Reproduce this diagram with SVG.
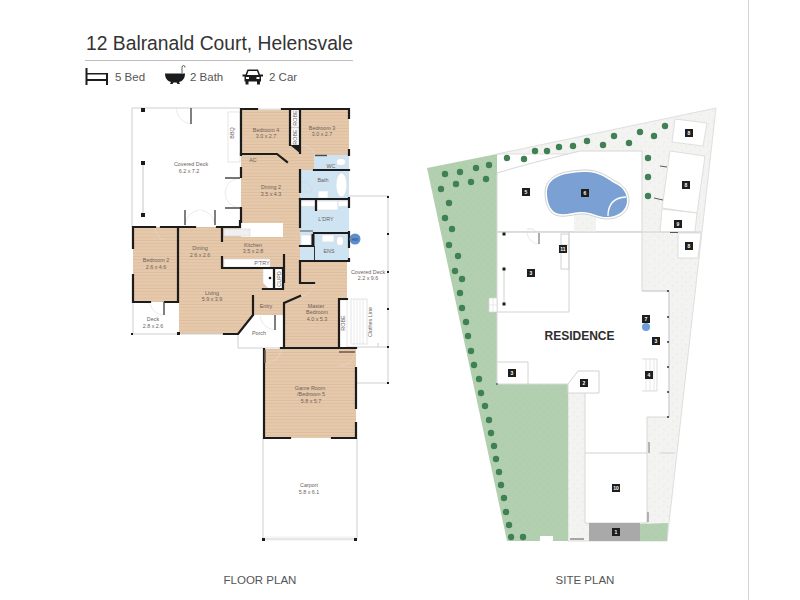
<svg xmlns="http://www.w3.org/2000/svg" width="800" height="600" viewBox="0 0 800 600">
<style>
text{font-family:"Liberation Sans",Arial,sans-serif}
.t{font-size:5.4px;fill:#6d625a;text-anchor:middle}
.w{fill:none;stroke:#1c1c1c;stroke-width:2.2;stroke-linecap:square}
.d{fill:none;stroke:#4a4a4a;stroke-width:1.4}
.g{fill:none;stroke:#cfcfcf;stroke-width:1}
.a{fill:none;stroke:#dcdcdc;stroke-width:.6}
.s{fill:none;stroke:#d2d2d2;stroke-width:1}
.c{fill:#1c1c1c}
.b{fill:#1e1e1e}
.n{font-size:5px;font-weight:bold;fill:#fff;text-anchor:middle}
.h{font-size:11.500px;fill:#555}
.p{font-size:11.500px;fill:#555;text-anchor:middle}
.tree{fill:#3f8155}
</style>
<defs>
<pattern id="wood" width="4" height="3.200" patternUnits="userSpaceOnUse"><rect width="4" height="3.200" fill="#e6c8ab"/><rect width="4" height=".8" fill="#dcbc9e"/></pattern>
<pattern id="gravel" width="9" height="9" patternUnits="userSpaceOnUse"><rect width="9" height="9" fill="#f3f3f1"/><circle cx="2" cy="3" r=".4" fill="#c4c4c0"/><circle cx="7" cy="7" r=".4" fill="#cfcfcb"/><circle cx="6" cy="1" r=".3" fill="#c4c4c0"/></pattern>
<pattern id="grass" width="7" height="7" patternUnits="userSpaceOnUse"><rect width="7" height="7" fill="#b2cfb0"/><circle cx="2" cy="2" r=".5" fill="#a6c6a5"/><circle cx="5" cy="5" r=".5" fill="#a6c6a5"/></pattern>
</defs>
<rect width="800" height="600" fill="#fff"/>
<line x1="748.500" y1="0" x2="748.500" y2="600" stroke="#d5d5d5" stroke-width="1"/>

<g id="header">
<text x="86" y="50" font-size="19.300" fill="#333">12 Balranald Court, Helensvale</text>
<line x1="85" y1="60.500" x2="353" y2="60.500" stroke="#bdbdbd" stroke-width="1"/>
<path id="bed" d="M85.500,68H87.500V73H108V85H106V81H87.500V85H85.500ZM87.500,74.500H106V79H87.500Z" fill="#1c1c1c" fill-rule="evenodd"/>
<text class="h" x="115" y="81">5 Bed</text>
<path id="bath" d="M165,73.500H185C185,78 183,81 179,82L180,84H177.500L176.500,82.500H173.500L172.500,84H170L171,82C167,81 165,78 165,73.500Z" fill="#1c1c1c"/>
<path id="tap" d="M182,73V67.500Q182,65.500 183.700,65.500Q185,65.500 185,67.500" fill="none" stroke="#333" stroke-width=".8"/>
<text class="h" x="190" y="81">2 Bath</text>
<path id="car" d="M242.500,74.500H245.500L247.500,69.500H258L260,74.500H263V76.500H261V81.500H260V84.500H257V81.500H248.500V84.500H245.500V81.500H244.500V76.500H242.500ZM248.500,71L247,75H258.500L257,71ZM246,77V79H249V77ZM256.500,77V79H259.500V77Z" fill="#1c1c1c" fill-rule="evenodd"/>
<text class="h" x="269" y="81">2 Car</text>
</g>

<g id="floor-plan">
<path id="floor" fill="url(#wood)" d="M241,109H349V155H314V171H300V262H347V348H284V315H253L238,334H179V227H240V222L241,222Z"/>
<rect id="cutout" x="241" y="223" width="42" height="14" fill="#fff"/>
<rect id="bed2floor" x="133" y="227" width="45" height="75" fill="url(#wood)"/>
<rect id="gamefloor" x="264" y="349" width="92" height="89" fill="url(#wood)"/>
<g id="wet-rooms" fill="#cfe4f3">
<rect x="314" y="155" width="35" height="16"/>
<rect x="300" y="170" width="49" height="63"/>
<rect x="300" y="233" width="49" height="28"/>
</g>
<g id="fixtures" fill="#fff" stroke="#d5d5d5" stroke-width=".6">
<ellipse cx="341.500" cy="185" rx="5.500" ry="12"/>
<ellipse cx="341" cy="162" rx="4.500" ry="3.500"/>
<rect x="318" y="191" width="10" height="7"/>
<path d="M301,182H306L312,188V192H301Z" fill="#cfe4f3"/>
<rect x="301" y="201" width="14" height="5.500"/>
<rect x="317" y="201" width="21" height="9"/>
<rect x="338" y="201" width="10" height="5.500"/>
<rect x="301" y="235" width="10" height="10"/>
<rect x="322" y="235" width="12" height="7"/>
<ellipse cx="340" cy="241" rx="3.500" ry="4.500"/>
<rect id="robe1" x="290" y="110" width="10" height="17"/>
<rect id="robe2" x="290" y="128" width="10" height="17"/>
<rect x="339" y="300" width="8" height="48"/>
<rect x="228" y="112" width="12" height="50"/>
<rect x="224" y="259" width="46" height="8"/>
<rect x="224" y="229" width="26" height="7" fill="#f0f0f0"/>
<path d="M263,269H274V289H269L263,283Z"/>
<rect x="275" y="269" width="8" height="20"/>
</g>
<g id="thin-lines">
<path class="g" d="M240,108H132V227"/>
<path class="g" d="M133,302V334H179"/>
<path class="g" d="M238,334V348H284"/>
<path class="g" d="M263,438V539H357V438"/>
<path class="g" d="M349,196H388V383H357"/>
<path class="g" d="M347,347H388"/>
<path class="g" d="M378,343V347"/>
<path class="g" d="M181,334H224"/>
<rect x="263" y="537" width="94" height="3" fill="none" stroke="#e4e4e4" stroke-width=".6"/>
<path fill="none" stroke="#dadada" stroke-width="1.500" d="M143,165V213"/>
<path class="a" d="M176,108Q178,122 191,124M185,225Q186,213 199,210M215,225Q214,213 201,210M240,178Q226,180 225,193M240,208Q226,206 225,193M155,227Q156,238 164,240M164,315Q152,314 150,303M265,363Q279,362 281,350M355,352Q354,365 339,366M275,330Q262,328 260,316M314,283Q312,295 300,296M300,145Q313,146 314,155"/>
<rect x="351" y="299" width="16" height="45" fill="#fff" stroke="#d8d8d8" stroke-width=".7"/>
<path class="a" d="M354,299V344M357,299V344M360,299V344M363,299V344"/>
<rect x="243" y="154" width="16" height="4" fill="none" stroke="#c8c8c8" stroke-width=".5"/>
<rect x="257" y="108.500" width="25" height="1.500" fill="#e0e0e0"/>
</g>
<g id="walls">
<path class="w" d="M241,109V155M241,109H257M282,109H349M349,109V118M349,150V155"/>
<path class="w" d="M241,154H277L287,162"/>
<path class="w" d="M290,109V145M300,109V153"/>
<path class="c" d="M290,145H301V154Z"/>
<path class="d" d="M315,155.500H327"/>
<path class="w" d="M314,170H349M300,170V192M300,199H349M316,199V210M349,198V207"/>
<path class="w" d="M300,199V227"/>
<path class="w" d="M314,233H349M349,232V247M349,259V261M300,246H313M300,261H347"/>
<path d="M300,231H313" stroke="#555" stroke-width="1"/>
<path d="M313,234V246" stroke="#1c1c1c" stroke-width="3"/>
<path d="M314.500,246V260" stroke="#333" stroke-width="1"/>
<path class="d" d="M225,178H240M225,208H240"/>
<path class="w" d="M241,177V168M241,208V222"/>
<path class="d" d="M191,108V124M185,210V225M215,210V225"/>
<path class="w" d="M133,227V248M133,275V302M133,302H150M165,302H178M133,227H155M161,227H195M217,227H240V221M178,227V302"/>
<path class="d" d="M164,302V315"/>
<path class="w" d="M222,227V241M222,257V268H284M284,255V282M274,269V288M263,289H283V269"/>
<path class="w" d="M224,334H238L253,315V296"/>
<path class="w" d="M284,348V303L300,296M300,262V283H314"/>
<path class="w" d="M339,299V348M339,299H347"/>
<path class="d" d="M275,315V330"/>
<path class="w" d="M264,349V438M281,348H356M264,438H290M332,438H356M356,368V408M356,423V438"/>
<path d="M265,350V363M339,352H355" fill="none" stroke="#6a5a50" stroke-width="1.500"/>
</g>
<g id="columns" class="c">
<rect x="141" y="108" width="4" height="4"/><rect x="141" y="161" width="4" height="4"/><rect x="141" y="213" width="4" height="4"/>
<rect x="131" y="333" width="2" height="2"/><rect x="177" y="332" width="3" height="3"/>
<rect x="387" y="196" width="2" height="2"/><rect x="387" y="233" width="2" height="2"/><rect x="387" y="271" width="2" height="2"/><rect x="387" y="308" width="2" height="2"/><rect x="387" y="346" width="2" height="2"/><rect x="387" y="382" width="2" height="2"/>
<rect x="262" y="538" width="3" height="3"/><rect x="354" y="538" width="3" height="3"/>
<circle cx="270" cy="278" r="1.300"/>
</g>
<circle id="hws" cx="355" cy="239" r="5.500" fill="#5b8ecb"/>
<text x="355" y="240.500" font-size="4" fill="#2c4d7a" text-anchor="middle">HW</text>
<g id="floor-labels">
<text class="t" x="191" y="166">Covered Deck</text><text class="t" x="189" y="173">6.2 x 7.2</text>
<text class="t" x="234" y="133" transform="rotate(-90 234 133)">BBQ</text>
<text class="t" x="266" y="132">Bedroom 4</text><text class="t" x="266" y="138">3.0 x 2.7</text>
<text class="t" x="322" y="130">Bedroom 3</text><text class="t" x="322" y="136">3.0 x 2.7</text>
<text class="t" x="297" y="118" transform="rotate(-90 297 118)">ROBE</text>
<text class="t" x="297" y="137" transform="rotate(-90 297 137)">ROBE</text>
<text class="t" x="253" y="162">AC</text>
<text class="t" x="331" y="168">WC</text>
<text class="t" x="323" y="182">Bath</text>
<text class="t" x="271" y="189">Dining 2</text><text class="t" x="271" y="196">3.5 x 4.3</text>
<text class="t" x="326" y="221">L'DRY</text>
<text class="t" x="329" y="253">ENS</text>
<text class="t" x="253" y="247">Kitchen</text><text class="t" x="253" y="253">3.5 x 2.8</text>
<text class="t" x="200" y="250">Dining</text><text class="t" x="200" y="257">2.6 x 2.6</text>
<text class="t" x="156" y="262">Bedroom 2</text><text class="t" x="156" y="269">2.6 x 4.6</text>
<text class="t" x="262" y="264.500">P'TRY</text>
<text class="t" x="281" y="279" transform="rotate(-90 281 279)">CUPD</text>
<text class="t" x="212" y="295">Living</text><text class="t" x="212" y="301">5.9 x 3.9</text>
<text class="t" x="153" y="321">Deck</text><text class="t" x="153" y="328">2.8 x 2.6</text>
<text class="t" x="266" y="308">Entry</text>
<text class="t" x="259" y="335">Porch</text>
<text class="t" x="316" y="308">Master</text><text class="t" x="317" y="314">Bedroom</text><text class="t" x="317" y="321">4.0 x 5.3</text>
<text class="t" x="345" y="323" transform="rotate(-90 345 323)">ROBE</text>
<text class="t" x="368" y="274">Covered Deck</text><text class="t" x="368" y="280">2.2 x 9.6</text>
<text class="t" x="372" y="322" transform="rotate(-90 372 322)">Clothes Line</text>
<text class="t" x="310" y="390">Game Room</text><text class="t" x="311" y="396">/Bedroom 5</text><text class="t" x="311" y="403">5.8 x 5.7</text>
<text class="t" x="309" y="487">Carport</text><text class="t" x="309" y="494">5.8 x 6.1</text>
</g>
<text class="p" x="260" y="584">FLOOR PLAN</text>
</g>

<g id="site-plan">
<path id="gravel-lot" fill="url(#gravel)" stroke="#d8d8d8" stroke-width=".8" d="M497,154L716,108L667,541H568V154Z"/>
<path id="lawn" fill="url(#grass)" d="M427,168L497,154V384H568V541H507Z"/>
<rect x="540" y="536" width="13" height="5" fill="#fff"/>
<path id="pool-yard" fill="#fff" stroke="#d8d8d8" d="M497,173Q530,163 580,151H642V232H497Z"/>
<path id="residence" fill="#fff" stroke="#d8d8d8" d="M497,232H642V291H669V417H647V523H585V393H568V384H497Z"/>
<rect x="574" y="213" width="22" height="19" fill="url(#gravel)"/>
<path id="pool-edge" fill="#fff" stroke="#d0d0d0" d="M545,193C545,175 563,171 583,170C600,169 609,178 617,182C626,187 629,194 629,201C629,212 619,219 607,219C597,219 590,213 580,214C570,215 560,219 552,213C547,208 545,200 545,193Z"/>
<path id="pool" fill="#7ba0d3" d="M547,193C547,177 563,173 583,172C600,171 608,180 616,184C624,188 627,194 627,201C627,210 618,217 607,217C597,217 590,211 580,212C570,213 560,217 553,211C549,207 547,200 547,193Z"/>
<path id="spa" d="M608,216Q608,198 626,197" fill="none" stroke="#fff" stroke-width="1.300"/>
<g id="outbuildings" fill="#fff" stroke="#d8d8d8" stroke-width=".8">
<path d="M675,119L707,123L703,146L672,142Z"/>
<path d="M670,151L705,156L697,213L662,208Z"/>
<path d="M662,209L697,213L695,232H660Z"/>
<path d="M678,233H701L698,258H678Z"/>
</g>
<path id="grey-pad" fill="#a9a9a9" d="M589,523H640V541H589Z"/>
<path id="corner-lawn" fill="url(#grass)" d="M640,524L668,523L667,541H640Z"/>
<g id="site-lines">
<path class="s" d="M497,232H701"/>
<path class="s" d="M569,232V312H497"/>
<rect x="561" y="234" width="8" height="35" class="s"/>
<path class="s" d="M561,245H569"/>
<rect x="489" y="298" width="8" height="14" fill="#fff" stroke="#d5d5d5" stroke-width=".7"/>
<path class="a" d="M489,305H497M493,298V312"/>
<path class="s" stroke-width="1.500" d="M504,269V304"/>
<path class="s" d="M497,362H528V384"/>
<path class="s" fill="#fff" d="M568,384L578,371H599V393H585"/>
<path class="s" d="M585,453H647"/>
<path class="s" d="M660,453H675"/>
<path class="s" d="M642,291H669V417"/>
<path d="M642,359H657V391H642" fill="none" stroke="#cdcdcd" stroke-width=".7"/>
<path d="M646,359V391M650,359V391M654,359V391" fill="none" stroke="#cdcdcd" stroke-width=".5"/>
<path class="a" d="M527,232Q528,243 539,244"/>
<path d="M527,229H533L536,232" fill="none" stroke="#cfcfcf" stroke-width=".6"/>
<path d="M539,233V244M660,166L667,167M654,198L663,200M670,232.500H678M570,539H584" fill="none" stroke="#4a4a4a" stroke-width=".9"/>
<path d="M649,442V453M648,512V522" fill="none" stroke="#777" stroke-width="1"/>
</g>
<g id="site-columns" class="c">
<rect x="502.500" y="232.500" width="3" height="3"/><rect x="502.500" y="267.500" width="3" height="3"/><rect x="502.500" y="302.500" width="3" height="3"/>
<circle cx="668" cy="291" r=".9"/><circle cx="668" cy="317" r=".9"/><circle cx="668" cy="342" r=".9"/><circle cx="668" cy="367" r=".9"/><circle cx="668" cy="392" r=".9"/><circle cx="497" cy="384" r=".8"/><circle cx="668" cy="417" r=".9"/>
</g>
<g id="trees" class="tree">
<circle cx="665" cy="126" r="3.200"/><circle cx="654" cy="136" r="3.200"/><circle cx="640" cy="132" r="3.200"/><circle cx="629" cy="143" r="3.200"/><circle cx="614" cy="136" r="3.200"/><circle cx="603" cy="145" r="3.200"/><circle cx="587" cy="141" r="3.200"/><circle cx="573" cy="146" r="3.200"/><circle cx="559" cy="147" r="3.200"/><circle cx="547" cy="151" r="3.200"/><circle cx="535" cy="151" r="3.200"/><circle cx="524" cy="159" r="3.200"/><circle cx="507" cy="158" r="3.200"/>
<circle cx="489" cy="165" r="3.200"/><circle cx="476" cy="168" r="3.200"/><circle cx="460" cy="172" r="3.200"/><circle cx="445" cy="174" r="3.200"/><circle cx="486" cy="179" r="3.200"/><circle cx="471" cy="182" r="3.200"/><circle cx="456" cy="184" r="3.200"/><circle cx="441" cy="189" r="3.200"/><circle cx="449" cy="203" r="3.200"/><circle cx="445" cy="218" r="3.200"/><circle cx="452" cy="229" r="3.200"/><circle cx="449" cy="245" r="3.200"/><circle cx="458" cy="256" r="3.200"/>
<circle cx="648" cy="158" r="3.200"/><circle cx="648" cy="177" r="3.200"/><circle cx="648" cy="196" r="3.200"/>
<circle cx="455" cy="271" r="3.200"/><circle cx="462" cy="279" r="3.200"/><circle cx="460" cy="293" r="3.200"/><circle cx="462" cy="308" r="3.200"/><circle cx="466" cy="322" r="3.200"/><circle cx="468" cy="336" r="3.200"/><circle cx="471" cy="351" r="3.200"/><circle cx="474" cy="365" r="3.200"/><circle cx="479" cy="379" r="3.200"/><circle cx="481" cy="393" r="3.200"/><circle cx="485" cy="406" r="3.200"/>
<circle cx="489" cy="420" r="3.200"/><circle cx="491" cy="433" r="3.200"/><circle cx="494" cy="446" r="3.200"/><circle cx="496" cy="459" r="3.200"/><circle cx="499" cy="472" r="3.200"/><circle cx="501" cy="485" r="3.200"/><circle cx="504" cy="498" r="3.200"/><circle cx="506" cy="512" r="3.200"/><circle cx="509" cy="525" r="3.200"/><circle cx="511" cy="537" r="3.200"/><circle cx="523" cy="537" r="3.200"/>
</g>
<circle id="site-hws" cx="646" cy="327" r="4" fill="#6f9dd6"/>
<g id="site-markers">
<rect class="b" x="522" y="188" width="8" height="8"/><text class="n" x="526" y="194">5</text>
<rect class="b" x="581" y="189" width="8" height="8"/><text class="n" x="585" y="195">6</text>
<rect class="b" x="685" y="129" width="8" height="8"/><text class="n" x="689" y="135">8</text>
<rect class="b" x="682" y="181" width="8" height="8"/><text class="n" x="686" y="187">8</text>
<rect class="b" x="674" y="220" width="8" height="8"/><text class="n" x="678" y="226">9</text>
<rect class="b" x="685" y="242" width="8" height="8"/><text class="n" x="689" y="248">8</text>
<rect class="b" x="559" y="245" width="8" height="8"/><text class="n" x="563" y="251">11</text>
<rect class="b" x="527" y="269" width="8" height="8"/><text class="n" x="531" y="275">3</text>
<rect class="b" x="642" y="315" width="8" height="8"/><text class="n" x="646" y="321">7</text>
<rect class="b" x="652" y="337" width="8" height="8"/><text class="n" x="656" y="343">3</text>
<rect class="b" x="645" y="371" width="8" height="8"/><text class="n" x="649" y="377">4</text>
<rect class="b" x="508" y="369" width="8" height="8"/><text class="n" x="512" y="375">3</text>
<rect class="b" x="580" y="379" width="8" height="8"/><text class="n" x="584" y="385">2</text>
<rect class="b" x="612" y="484" width="8" height="8"/><text class="n" x="616" y="490">10</text>
<rect class="b" x="612" y="528" width="8" height="8"/><text class="n" x="616" y="534">1</text>
</g>
<text x="579.500" y="340" font-size="12" font-weight="bold" fill="#2e2e2e" text-anchor="middle">RESIDENCE</text>
<text class="p" x="585" y="584">SITE PLAN</text>
</g>
</svg>
